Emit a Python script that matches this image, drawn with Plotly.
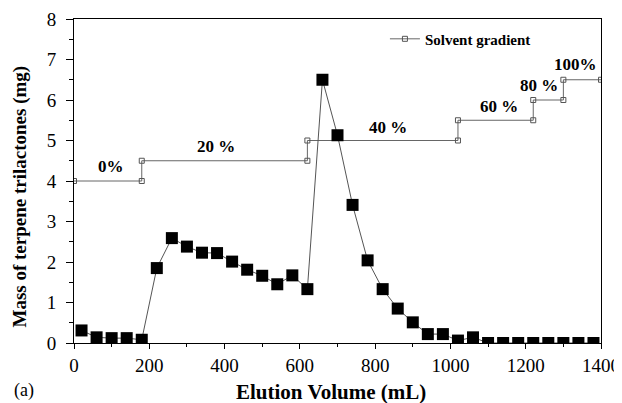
import plotly.graph_objects as go

# Elution data (mass of terpene trilactones, mg)
elution_ml = [20, 60, 100, 140, 180, 220, 260, 300, 340, 380, 420, 460, 500, 540, 580,
              620, 660, 700, 740, 780, 820, 860, 900, 940, 980, 1020, 1060, 1100, 1140,
              1180, 1220, 1260, 1300, 1340, 1380]
mass_mg = [0.31, 0.14, 0.12, 0.12, 0.08, 1.85, 2.59, 2.38, 2.23, 2.22, 2.01, 1.81, 1.66,
           1.45, 1.67, 1.33, 6.5, 5.13, 3.41, 2.04, 1.33, 0.85, 0.51, 0.22, 0.22, 0.06,
           0.14, 0.0, 0.0, 0.0, 0.0, 0.0, 0.0, 0.0, 0.0]

# Solvent gradient step line
grad_x = [0, 180, 180, 620, 620, 1020, 1020, 1220, 1220, 1300, 1300, 1400]
grad_y = [4, 4, 4.5, 4.5, 5, 5, 5.5, 5.5, 6, 6, 6.5, 6.5]

# Gradient labels
lab_text = ["0%", "20 %", "40 %", "60 %", "80 %", "100%"]
lab_x = [98, 377, 833, 1130, 1236, 1333]
lab_y = [4.35, 4.86, 5.33, 5.85, 6.36, 6.88]

x_title = "Elution Volume (mL)"
y_title = "Mass of terpene trilactones (mg)"
panel_label = "(a)"

serif = "Liberation Serif"

fig = go.Figure()
fig.add_trace(go.Scatter(
    x=grad_x, y=grad_y, mode="lines+markers", name="<b>Solvent gradient</b>",
    line=dict(color="#666666", width=1),
    marker=dict(symbol="square-open", size=5, color="#555555", line=dict(width=1)),
))
fig.add_trace(go.Scatter(
    x=elution_ml, y=mass_mg, mode="lines+markers", showlegend=False,
    line=dict(color="#555555", width=1),
    marker=dict(symbol="square", size=12, color="black"),
))

for t, x, y in zip(lab_text, lab_x, lab_y):
    fig.add_annotation(x=x, y=y, xref="x", yref="y", text="<b>%s</b>" % t,
                       showarrow=False, font=dict(size=17, color="black", family=serif))

fig.add_annotation(x=-0.1176, y=-0.148, xref="paper", yref="paper", xanchor="left",
                   yanchor="middle", text=panel_label, showarrow=False,
                   font=dict(size=18, color="black", family=serif))
fig.add_annotation(x=0.487, y=-0.151, xref="paper", yref="paper", xanchor="center",
                   yanchor="middle", text="<b>%s</b>" % x_title, showarrow=False,
                   font=dict(size=21, color="black", family=serif))
fig.add_annotation(x=-0.1025, y=0.452, xref="paper", yref="paper", xanchor="center",
                   yanchor="middle", text="<b>%s</b>" % y_title, showarrow=False,
                   textangle=-90, font=dict(size=19, color="black", family=serif))

# page body has an 8px margin, so the figure is sized/offset to fill the window
fig.update_layout(
    width=614, height=395,
    margin=dict(l=66, r=21, t=11, b=60),
    paper_bgcolor="white", plot_bgcolor="white",
    font=dict(family=serif, size=18, color="black"),
    legend=dict(x=0.59, y=0.989, xanchor="left", yanchor="top", bgcolor="rgba(0,0,0,0)",
                font=dict(size=15, family=serif, color="black")),
    xaxis=dict(range=[0, 1400], dtick=200, showline=True, mirror=True, linecolor="black",
               linewidth=1, ticks="outside", ticklen=5, tickcolor="black", showgrid=False,
               zeroline=False, automargin=False, tickfont=dict(size=19, family=serif),
               minor=dict(dtick=100, ticks="outside", ticklen=3, tickcolor="black")),
    yaxis=dict(range=[0, 8], dtick=1, showline=True, mirror=True, linecolor="black",
               linewidth=1, ticks="outside", ticklen=7, tickcolor="black", showgrid=False,
               zeroline=False, automargin=False, tickfont=dict(size=19, family=serif),
               ticklabelstandoff=6,
               minor=dict(dtick=0.5, ticks="outside", ticklen=4, tickcolor="black")),
)

fig.write_html("out.html")
